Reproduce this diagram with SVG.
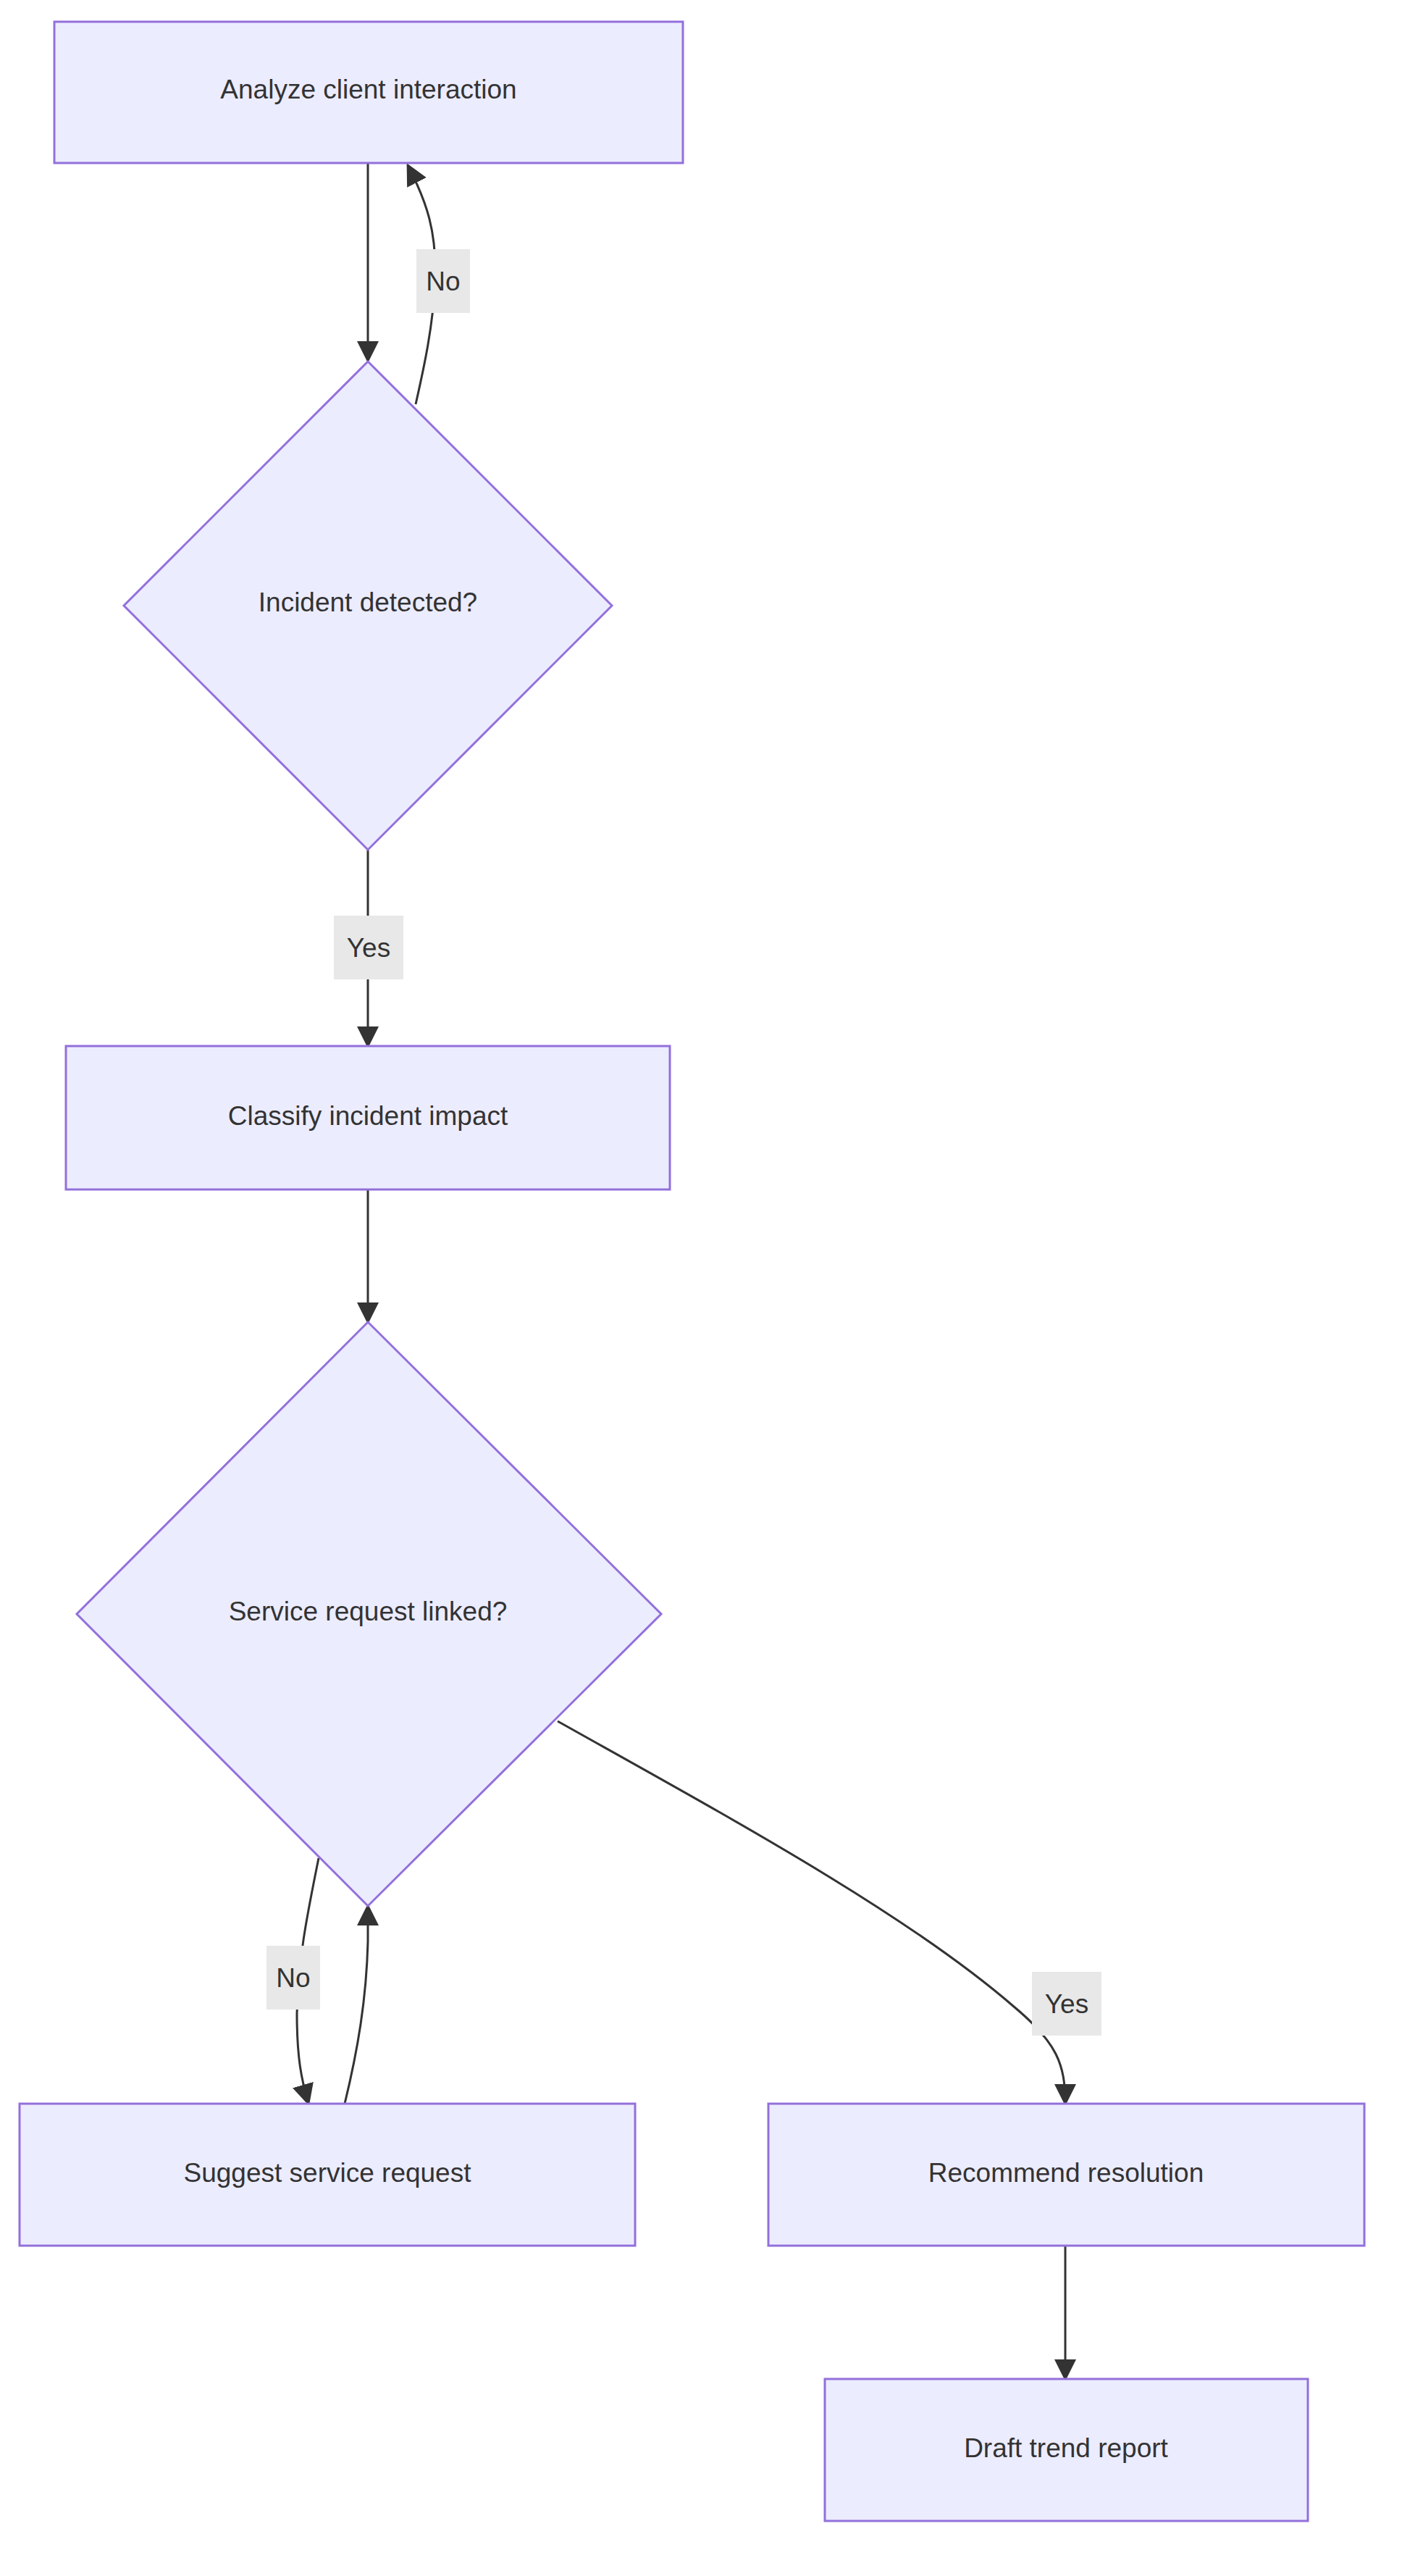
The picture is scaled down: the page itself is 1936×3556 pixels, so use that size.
<svg xmlns="http://www.w3.org/2000/svg" width="1936" height="3556" viewBox="0 0 1936 3556">
<style>
.n{fill:#ECECFF;stroke:#9370DB;stroke-width:3}
.t{font-family:"Liberation Sans",Arial,sans-serif;font-size:37px;fill:#333;text-anchor:middle;dominant-baseline:central}
.e{fill:none;stroke:#333;stroke-width:3}
.lb{fill:#e8e8e8}
</style>
<defs><marker id="a" viewBox="0 0 10 10" refX="9" refY="5" markerWidth="10" markerHeight="10" markerUnits="userSpaceOnUse" orient="auto"><path d="M0,0L10,5L0,10z" fill="#333" transform="scale(1)"/></marker>
<marker id="b" viewBox="0 0 10 10" refX="9" refY="5" markerWidth="30" markerHeight="30" markerUnits="userSpaceOnUse" orient="auto"><path d="M0,0L10,5L0,10z" fill="#333"/></marker></defs>
<g id="edges">
<path class="e" marker-end="url(#b)" d="M508,225V498"/>
<path class="e" marker-end="url(#b)" d="M574,558C586,505 598,450 601,387C603,320 590,280 563,228"/>
<path class="e" marker-end="url(#b)" d="M508,1173V1444"/>
<path class="e" marker-end="url(#b)" d="M508,1642V1825"/>
<path class="e" marker-end="url(#b)" d="M440,2565C425,2640 412,2700 410,2780C410,2840 416,2870 426,2904"/>
<path class="e" marker-end="url(#b)" d="M476,2904C494,2830 506,2760 508,2680L508,2631"/>
<path class="e" marker-end="url(#b)" d="M770,2376C1000,2505 1250,2640 1400,2770C1460,2820 1471,2850 1471,2904"/>
<path class="e" marker-end="url(#b)" d="M1471,3100V3284"/>
<rect class="lb" x="575" y="344" width="74" height="88"/><text class="t" x="612" y="388">No</text>
<rect class="lb" x="461" y="1264" width="96" height="88"/><text class="t" x="509" y="1308">Yes</text>
<rect class="lb" x="368" y="2686" width="74" height="88"/><text class="t" x="405" y="2730">No</text>
<rect class="lb" x="1425" y="2722" width="96" height="88"/><text class="t" x="1473" y="2766">Yes</text>
</g>
<g id="analyze"><rect class="n" x="75" y="30" width="868" height="195"/><text class="t" x="509" y="123">Analyze client interaction</text></g>
<g id="d1"><path class="n" d="M508,499L845,836L508,1173L171,836Z"/><text class="t" x="508" y="831">Incident detected?</text></g>
<g id="classify"><rect class="n" x="91" y="1444" width="834" height="198"/><text class="t" x="508" y="1540">Classify incident impact</text></g>
<g id="d2"><path class="n" d="M508,1825L913,2228L508,2631L106,2228Z"/><text class="t" x="508" y="2224">Service request linked?</text></g>
<g id="suggest"><rect class="n" x="27" y="2904" width="850" height="196"/><text class="t" x="452" y="2999">Suggest service request</text></g>
<g id="recommend"><rect class="n" x="1061" y="2904" width="823" height="196"/><text class="t" x="1472" y="2999">Recommend resolution</text></g>
<g id="draft"><rect class="n" x="1139" y="3284" width="667" height="196"/><text class="t" x="1472" y="3379">Draft trend report</text></g>
</svg>
